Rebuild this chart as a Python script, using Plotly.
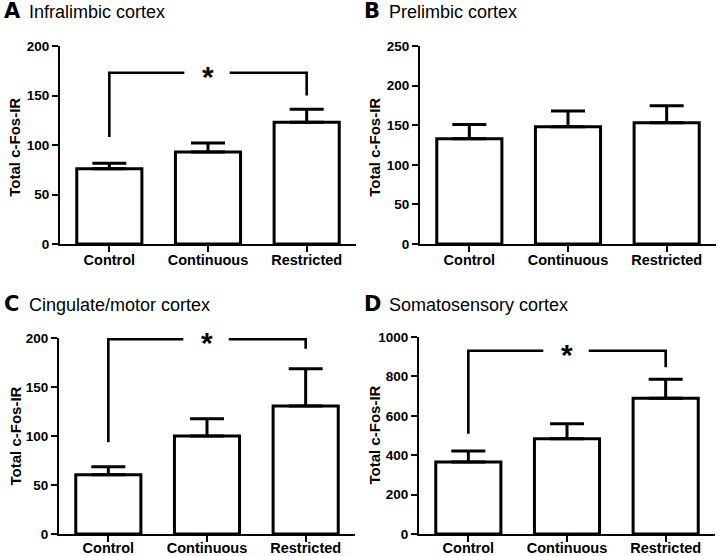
import plotly.graph_objects as go

# ---- data ----
categories = ["Control", "Continuous", "Restricted"]

infralimbic_mean = [76, 93, 123]
infralimbic_sem = [5.5, 9, 13]

prelimbic_mean = [133, 148, 153]
prelimbic_sem = [18, 20, 21.5]

cingulate_mean = [60.5, 100, 130.5]
cingulate_sem = [8, 17.5, 38]

somato_mean = [365, 484, 689]
somato_sem = [56, 76, 96]

panel_letters = ["A", "B", "C", "D"]
panel_titles = ["Infralimbic cortex", "Prelimbic cortex",
                "Cingulate/motor cortex", "Somatosensory cortex"]
y_title = "Total c-Fos-IR"
y_max = [200, 250, 200, 1000]
y_dtick = [50, 50, 50, 200]

# significance brackets (Control vs Restricted): bracket top, left drop, right drop
sig_brackets = [(173, 108, 150), None, (198.7, 93.5, 189), (930, 509, 846)]
sig_label = "*"

means = [infralimbic_mean, prelimbic_mean, cingulate_mean, somato_mean]
sems = [infralimbic_sem, prelimbic_sem, cingulate_sem, somato_sem]

# ---- layout geometry (pixels) ----
W, H = 720, 556
boxes = [(60, 356, 46, 244), (420, 716, 46, 244),
         (59, 355, 338, 534), (419, 715, 337, 534)]
title_baseline = [19.5, 19.5, 312.5, 312.5]
ytitle_pos = [(14.2, 147.5), (374.2, 147.5), (14.5, 436), (374, 435.5)]
xlabel_standoff = [-4, -4, -6, -6]


def fx(p):
    return p / W


def fy(p):
    return 1 - p / H


FONT = "Liberation Sans, Arial, sans-serif"
LETTER_FONT = "DejaVu Sans, Liberation Sans, sans-serif"
xpos = list(range(len(categories)))

fig = go.Figure()
annotations = []
layout_axes = {}

for i in range(4):
    n = "" if i == 0 else str(i + 1)
    xa, ya = "x" + n, "y" + n
    x0, x1, y0, y1 = boxes[i]

    fig.add_trace(go.Bar(
        x=xpos, y=means[i], width=0.66,
        marker=dict(color="white", line=dict(color="black", width=3)),
        error_y=dict(type="data", array=sems[i], arrayminus=[0] * len(sems[i]),
                     symmetric=False, color="black", thickness=3, width=17),
        xaxis=xa, yaxis=ya, showlegend=False, hoverinfo="skip",
    ))

    br = sig_brackets[i]
    if br is not None:
        top, ldrop, rdrop = br
        fig.add_trace(go.Scatter(
            x=[xpos[0], xpos[0], 0.76, None, 1.22, xpos[2], xpos[2]],
            y=[ldrop, top, top, None, top, top, rdrop],
            mode="lines", line=dict(color="black", width=2.6),
            cliponaxis=False, xaxis=xa, yaxis=ya,
            showlegend=False, hoverinfo="skip",
        ))
        annotations.append(dict(
            x=1, y=top, xref=xa, yref=ya, text=sig_label, showarrow=False,
            font=dict(family=FONT, size=30, color="black", weight="bold"),
            xanchor="center", yanchor="middle", yshift=-3.5,
        ))

    layout_axes["xaxis" + n] = dict(
        domain=[fx(x0), fx(x1)], anchor=ya, range=[-0.5, 2.5],
        tickmode="array", tickvals=xpos, ticktext=categories,
        showline=True, linecolor="black", linewidth=2,
        ticks="outside", ticklen=6, tickwidth=2, tickcolor="black",
        ticklabelstandoff=xlabel_standoff[i],
        tickfont=dict(family=FONT, size=14.5, color="black", weight="bold"),
        showgrid=False, zeroline=False, fixedrange=True, automargin=False,
    )
    layout_axes["yaxis" + n] = dict(
        domain=[fy(y1), fy(y0)], anchor=xa, range=[0, y_max[i]],
        dtick=y_dtick[i], tick0=0,
        showline=True, linecolor="black", linewidth=2,
        ticks="outside", ticklen=6, tickwidth=2, tickcolor="black",
        tickfont=dict(family=FONT, size=13.5, color="black", weight="bold"),
        showgrid=False, zeroline=False, fixedrange=True, automargin=False,
    )

    # y-axis title
    tx, ty = ytitle_pos[i]
    annotations.append(dict(
        x=fx(tx), y=fy(ty), xref="paper", yref="paper", text=y_title,
        textangle=-90, showarrow=False, xanchor="center", yanchor="middle",
        font=dict(family=FONT, size=15, color="black", weight="bold"),
    ))

    # panel letter and title
    left = 0 if i in (0, 2) else 360
    base = title_baseline[i]
    annotations.append(dict(
        x=fx(left + 1.5), y=fy(base + 0.236 * 21 + 1), xref="paper", yref="paper",
        text=panel_letters[i], showarrow=False, xanchor="left", yanchor="bottom",
        font=dict(family=LETTER_FONT, size=21, color="black", weight="bold"),
    ))
    annotations.append(dict(
        x=fx(left + 26.5), y=fy(base + 0.212 * 18 + 1), xref="paper", yref="paper",
        text=panel_titles[i], showarrow=False, xanchor="left", yanchor="bottom",
        font=dict(family=FONT, size=18, color="black"),
    ))

fig.update_layout(
    width=W, height=H, margin=dict(l=0, r=0, t=0, b=0, pad=0, autoexpand=False),
    paper_bgcolor="white", plot_bgcolor="white",
    annotations=annotations, bargap=0.3,
    **layout_axes,
)

fig.write_html("out.html", config={"displayModeBar": False},
               post_script="document.body.style.margin='0';")
